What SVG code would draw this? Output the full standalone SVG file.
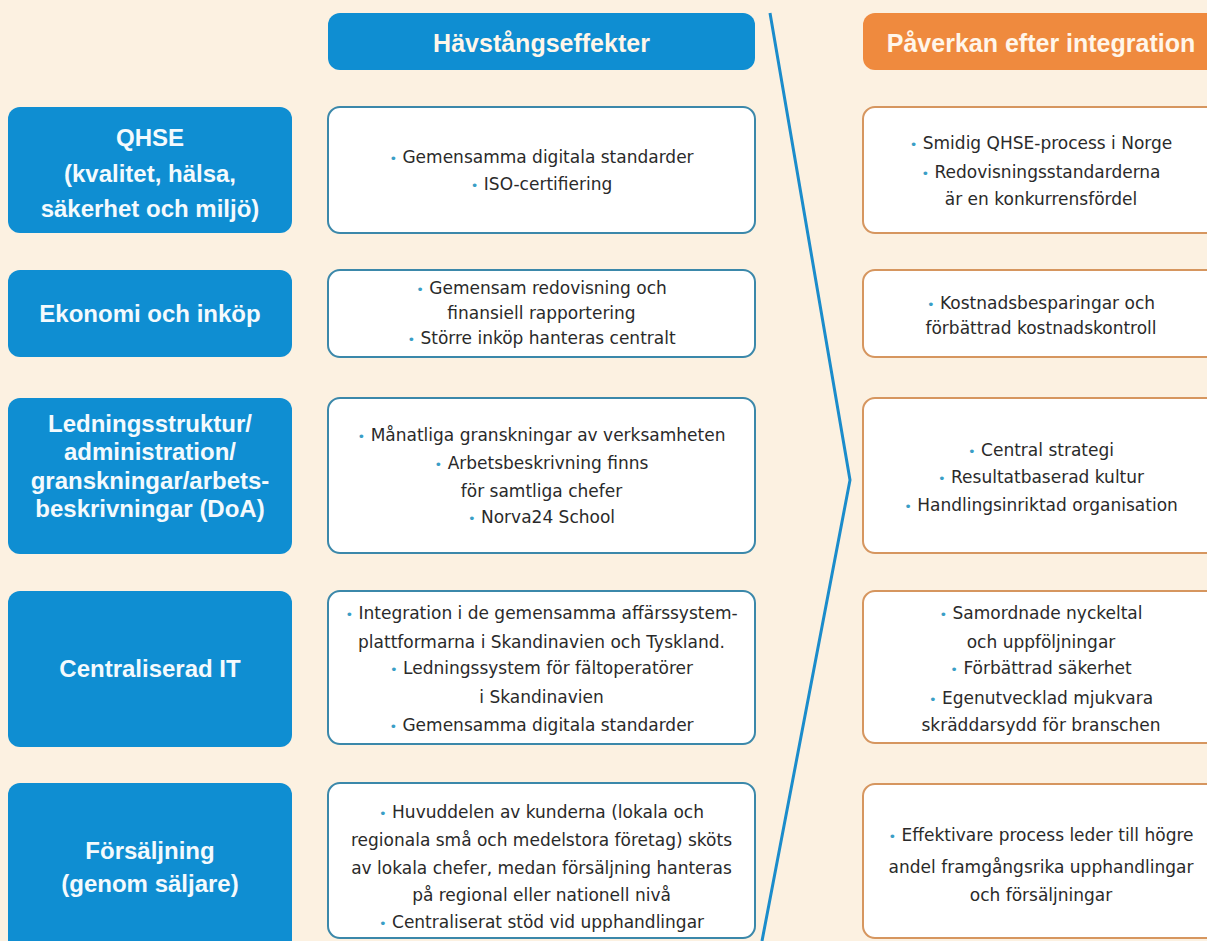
<svg xmlns="http://www.w3.org/2000/svg" width="1207" height="941" viewBox="0 0 1207 941">
<style>
.bg{fill:#FCF1E1}
.lbox{fill:#0F8ED2}
.hdrB{fill:#0F8ED2}
.hdrO{fill:#EF8A3E}
.mbox{fill:#FFFFFF;stroke:#3B88AA;stroke-width:2}
.rbox{fill:#FFFFFF;stroke:#D6965F;stroke-width:2}
.lbl{font-family:"Liberation Sans",Arial,sans-serif;font-weight:bold;font-size:24px;fill:#F4FAFD;text-anchor:middle}
.hdr{font-family:"Liberation Sans",Arial,sans-serif;font-weight:bold;font-size:25px;fill:#FFF6EA;text-anchor:middle}
.txt{font-family:"DejaVu Sans",sans-serif;font-size:17px;fill:#2A2A2A;text-anchor:middle}
.b{fill:#3A9EC6;font-size:13px}
.line{fill:none;stroke:#1B8CCB;stroke-width:3;stroke-linejoin:miter}
</style>
<rect class="bg" x="0" y="0" width="1207" height="941"/>

<g id="connectors">
<polyline class="line" points="770,13 850,480 762,941"/>
</g>

<g id="header-havstang">
<rect class="hdrB" x="328" y="13" width="427" height="57" rx="12"/>
<text class="hdr" x="541.5" y="52">Hävstångseffekter</text>
</g>
<g id="header-paverkan">
<rect class="hdrO" x="863" y="13" width="370" height="57" rx="12"/>
<text class="hdr" x="1041" y="52">Påverkan efter integration</text>
</g>

<!-- Row 1 -->
<g id="qhse">
<rect class="lbox" x="8" y="107" width="284" height="126" rx="12"/>
<text class="lbl"><tspan x="150" y="145.5">QHSE</tspan><tspan x="150" y="181.5">(kvalitet, hälsa,</tspan><tspan x="150" y="216.5">säkerhet och miljö)</tspan></text>
</g>
<g id="qhse-effekt">
<rect class="mbox" x="328" y="107" width="427" height="126" rx="12"/>
<text class="txt"><tspan x="541.5" y="163"><tspan class="b">•</tspan> Gemensamma digitala standarder</tspan><tspan x="541.5" y="190"><tspan class="b">•</tspan> ISO-certifiering</tspan></text>
</g>
<g id="qhse-paverkan">
<rect class="rbox" x="863" y="107" width="370" height="126" rx="12"/>
<text class="txt"><tspan x="1041" y="149"><tspan class="b">•</tspan> Smidig QHSE-process i Norge</tspan><tspan x="1041" y="178"><tspan class="b">•</tspan> Redovisningsstandarderna</tspan><tspan x="1041" y="205">är en konkurrensfördel</tspan></text>
</g>

<!-- Row 2 -->
<g id="ekonomi">
<rect class="lbox" x="8" y="270" width="284" height="87" rx="12"/>
<text class="lbl" x="150" y="321.5">Ekonomi och inköp</text>
</g>
<g id="ekonomi-effekt">
<rect class="mbox" x="328" y="270" width="427" height="87" rx="12"/>
<text class="txt"><tspan x="541.5" y="294"><tspan class="b">•</tspan> Gemensam redovisning och</tspan><tspan x="541.5" y="319">finansiell rapportering</tspan><tspan x="541.5" y="344"><tspan class="b">•</tspan> Större inköp hanteras centralt</tspan></text>
</g>
<g id="ekonomi-paverkan">
<rect class="rbox" x="863" y="270" width="370" height="87" rx="12"/>
<text class="txt"><tspan x="1041" y="309"><tspan class="b">•</tspan> Kostnadsbesparingar och</tspan><tspan x="1041" y="334">förbättrad kostnadskontroll</tspan></text>
</g>

<!-- Row 3 -->
<g id="ledning">
<rect class="lbox" x="8" y="398" width="284" height="156" rx="12"/>
<text class="lbl"><tspan x="150" y="431.5">Ledningsstruktur/</tspan><tspan x="150" y="460">administration/</tspan><tspan x="150" y="488.5">granskningar/arbets-</tspan><tspan x="150" y="517">beskrivningar (DoA)</tspan></text>
</g>
<g id="ledning-effekt">
<rect class="mbox" x="328" y="398" width="427" height="155" rx="12"/>
<text class="txt"><tspan x="541.5" y="441"><tspan class="b">•</tspan> Månatliga granskningar av verksamheten</tspan><tspan x="541.5" y="469"><tspan class="b">•</tspan> Arbetsbeskrivning finns</tspan><tspan x="541.5" y="497">för samtliga chefer</tspan><tspan x="541.5" y="523"><tspan class="b">•</tspan> Norva24 School</tspan></text>
</g>
<g id="ledning-paverkan">
<rect class="rbox" x="863" y="398" width="370" height="155" rx="12"/>
<text class="txt"><tspan x="1041" y="456"><tspan class="b">•</tspan> Central strategi</tspan><tspan x="1041" y="483"><tspan class="b">•</tspan> Resultatbaserad kultur</tspan><tspan x="1041" y="511"><tspan class="b">•</tspan> Handlingsinriktad organisation</tspan></text>
</g>

<!-- Row 4 -->
<g id="it">
<rect class="lbox" x="8" y="591" width="284" height="156" rx="12"/>
<text class="lbl" x="150" y="676.5">Centraliserad IT</text>
</g>
<g id="it-effekt">
<rect class="mbox" x="328" y="591" width="427" height="153" rx="12"/>
<text class="txt"><tspan x="541.5" y="619"><tspan class="b">•</tspan> Integration i de gemensamma affärssystem-</tspan><tspan x="541.5" y="648">plattformarna i Skandinavien och Tyskland.</tspan><tspan x="541.5" y="674"><tspan class="b">•</tspan> Ledningssystem för fältoperatörer</tspan><tspan x="541.5" y="703">i Skandinavien</tspan><tspan x="541.5" y="731"><tspan class="b">•</tspan> Gemensamma digitala standarder</tspan></text>
</g>
<g id="it-paverkan">
<rect class="rbox" x="863" y="591" width="370" height="152" rx="12"/>
<text class="txt"><tspan x="1041" y="619"><tspan class="b">•</tspan> Samordnade nyckeltal</tspan><tspan x="1041" y="648">och uppföljningar</tspan><tspan x="1041" y="674"><tspan class="b">•</tspan> Förbättrad säkerhet</tspan><tspan x="1041" y="704"><tspan class="b">•</tspan> Egenutvecklad mjukvara</tspan><tspan x="1041" y="731">skräddarsydd för branschen</tspan></text>
</g>

<!-- Row 5 -->
<g id="forsaljning">
<rect class="lbox" x="8" y="783" width="284" height="170" rx="12"/>
<text class="lbl"><tspan x="150" y="858.5">Försäljning</tspan><tspan x="150" y="891.5">(genom säljare)</tspan></text>
</g>
<g id="forsaljning-effekt">
<rect class="mbox" x="328" y="783" width="427" height="155" rx="12"/>
<text class="txt"><tspan x="541.5" y="818"><tspan class="b">•</tspan> Huvuddelen av kunderna (lokala och</tspan><tspan x="541.5" y="846">regionala små och medelstora företag) sköts</tspan><tspan x="541.5" y="874">av lokala chefer, medan försäljning hanteras</tspan><tspan x="541.5" y="901">på regional eller nationell nivå</tspan><tspan x="541.5" y="928"><tspan class="b">•</tspan> Centraliserat stöd vid upphandlingar</tspan></text>
</g>
<g id="forsaljning-paverkan">
<rect class="rbox" x="863" y="784" width="370" height="154" rx="12"/>
<text class="txt"><tspan x="1041" y="841"><tspan class="b">•</tspan> Effektivare process leder till högre</tspan><tspan x="1041" y="873">andel framgångsrika upphandlingar</tspan><tspan x="1041" y="901">och försäljningar</tspan></text>
</g>
</svg>
